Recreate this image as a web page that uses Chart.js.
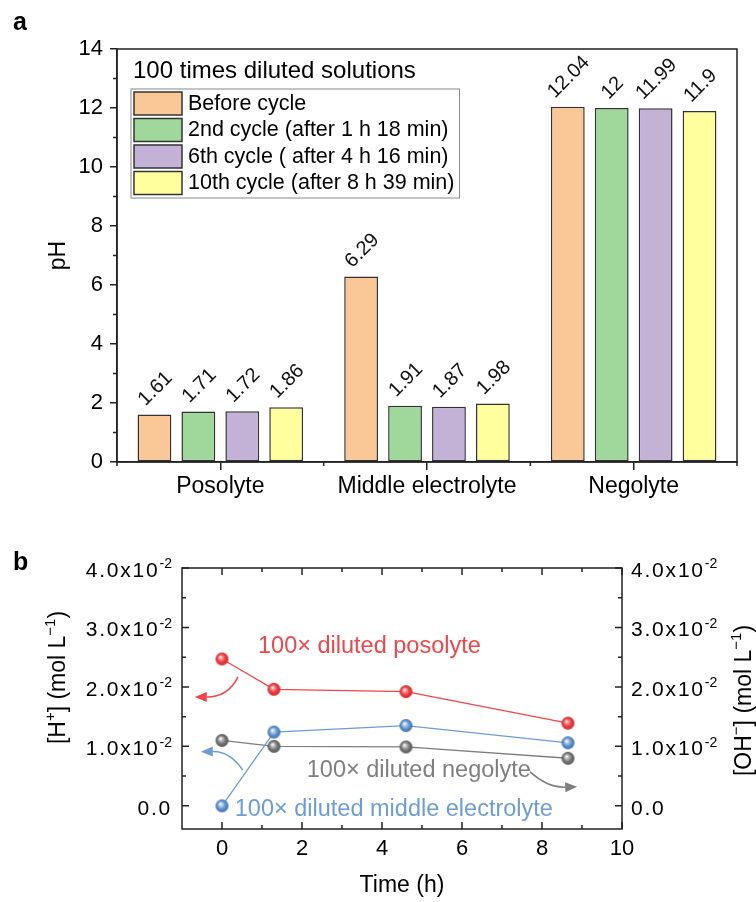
<!DOCTYPE html>
<html>
<head>
<meta charset="utf-8">
<script src="https://cdn.jsdelivr.net/npm/chart.js@4.4.1/dist/chart.umd.min.js"></script>
<style>
  body { margin: 0; background: #fff; }
  #wrap { position: relative; width: 756px; height: 902px; }
  #boxA { position: absolute; left: 0; top: 0; width: 756px; height: 520px; }
  #boxB { position: absolute; left: 0; top: 520px; width: 756px; height: 382px; }
</style>
</head>
<body>
<div id="wrap">
  <div id="boxA"><canvas id="graphique-ph"></canvas></div>
  <div id="boxB"><canvas id="graphique-conc"></canvas></div>
</div>
<script>
//-------------------------- Données : panneau a (pH) ---------------------------------------------
const solutions = ['Posolyte', 'Middle electrolyte', 'Negolyte'];
const cycleLabels = ['Before cycle', '2nd cycle (after 1 h 18 min)', '6th cycle ( after 4 h 16 min)', '10th cycle (after 8 h 39 min)'];
const phBefore = [1.61, 6.29, 12.04];
const ph2nd = [1.71, 1.91, 12];
const ph6th = [1.72, 1.87, 11.99];
const ph10th = [1.86, 1.98, 11.9];
const phTicksMajor = [0, 2, 4, 6, 8, 10, 12, 14];

//-------------------------- Données : panneau b (concentrations) ---------------------------------
const temps = [0, 1.3, 4.6, 8.65];
const hPosolyte = [0.0247, 0.0196, 0.0192, 0.0139];
const hMiddle = [0.0000, 0.0124, 0.0135, 0.0106];
const ohNegolyte = [0.0110, 0.0100, 0.0099, 0.0080];
const timeTicks = [0, 2, 4, 6, 8, 10];
const timeMinor = [1, 3, 5, 7, 9];
const concTicks = [0, 0.01, 0.02, 0.03, 0.04];
const concTickLabels = ['0.0', '1.0x10^{-2}', '2.0x10^{-2}', '3.0x10^{-2}', '4.0x10^{-2}'];
const concMinor = [0.005, 0.015, 0.025, 0.035];

const FONT = '"Liberation Sans", Arial, sans-serif';
const couleursBarres = ['#FAC896', '#A0D79B', '#C3B1D6', '#FFFF9E'];
Chart.defaults.font.family = FONT;
Chart.defaults.color = '#000';

// texte avec exposants : 'abc^{x}def'
function drawRich(ctx, str, x, y, size, align, spacing) {
    const parts = [];
    const re = /\^\{([^}]*)\}/g;
    let last = 0, m;
    while ((m = re.exec(str)) !== null) {
        if (m.index > last) parts.push({ t: str.slice(last, m.index), sup: false });
        parts.push({ t: m[1], sup: true });
        last = re.lastIndex;
    }
    if (last < str.length) parts.push({ t: str.slice(last), sup: false });
    const supSize = Math.round(size * 0.66);
    let total = 0;
    parts.forEach(p => {
        ctx.font = (p.sup ? supSize : size) + 'px ' + FONT;
        ctx.letterSpacing = p.sup ? '0px' : (spacing || '0px');
        p.w = ctx.measureText(p.t).width;
        total += p.w;
    });
    let cx = align === 'right' ? x - total : align === 'center' ? x - total / 2 : x;
    ctx.textAlign = 'left';
    ctx.textBaseline = 'alphabetic';
    parts.forEach(p => {
        ctx.font = (p.sup ? supSize : size) + 'px ' + FONT;
        ctx.letterSpacing = p.sup ? '0px' : (spacing || '0px');
        ctx.fillText(p.t, cx, p.sup ? y - size * 0.42 : y);
        cx += p.w;
    });
    ctx.letterSpacing = '0px';
}

//-------------------------- Panneau a : graphique en barres ---------------------------------------
const decoA = {
    id: 'decoA',
    afterDraw(chart) {
        const ctx = chart.ctx, a = chart.chartArea;
        const sx = chart.scales.x, sy = chart.scales.y;
        ctx.save();
        ctx.strokeStyle = '#222';
        ctx.lineWidth = 1.5;
        ctx.strokeRect(a.left, a.top, a.right - a.left, a.bottom - a.top);

        // petites graduations
        ctx.beginPath();
        for (let v = 1; v < 14; v += 2) {
            const p = sy.getPixelForValue(v);
            ctx.moveTo(a.left - 4, p); ctx.lineTo(a.left, p);
        }
        const pas = sx.getPixelForValue(1) - sx.getPixelForValue(0);
        for (let i = 0; i <= solutions.length; i++) {
            const p = sx.getPixelForValue(0) - pas / 2 + i * pas;
            ctx.moveTo(p, a.bottom); ctx.lineTo(p, a.bottom + 4);
        }
        ctx.stroke();

        // valeurs au-dessus des barres
        ctx.fillStyle = '#111';
        ctx.font = '20px ' + FONT;
        chart.data.datasets.forEach((ds, di) => {
            chart.getDatasetMeta(di).data.forEach((bar, i) => {
                const txt = String(ds.data[i]);
                const w = ctx.measureText(txt).width;
                const off = (w + 14) * 0.3536 + 7;
                ctx.save();
                ctx.translate(bar.x + 1, bar.y - off);
                ctx.rotate(-Math.PI / 4);
                ctx.textAlign = 'center';
                ctx.textBaseline = 'middle';
                ctx.fillText(txt, 0, 0);
                ctx.restore();
            });
        });

        // légende
        ctx.fillStyle = '#000';
        ctx.font = '24px ' + FONT;
        ctx.textAlign = 'left';
        ctx.textBaseline = 'alphabetic';
        ctx.fillText('100 times diluted solutions', a.left + 16, a.top + 29);
        const lx = a.left + 14, ly = a.top + 40;
        ctx.font = '21.5px ' + FONT;
        let maxW = 0;
        cycleLabels.forEach(t => { maxW = Math.max(maxW, ctx.measureText(t).width); });
        ctx.strokeStyle = '#888';
        ctx.lineWidth = 1;
        ctx.strokeRect(lx, ly, 57 + maxW + 5, 109);
        chart.data.datasets.forEach((ds, di) => {
            const ry = ly + 3 + di * 26.5;
            ctx.fillStyle = ds.backgroundColor;
            ctx.fillRect(lx + 3, ry, 48, 23);
            ctx.strokeStyle = '#333';
            ctx.lineWidth = 1.5;
            ctx.strokeRect(lx + 3, ry, 48, 23);
            ctx.fillStyle = '#000';
            ctx.textBaseline = 'middle';
            ctx.fillText(ds.label, lx + 57, ry + 12);
        });

        // titre de l'axe y
        ctx.save();
        ctx.translate(a.left - 58, (a.top + a.bottom) / 2);
        ctx.rotate(-Math.PI / 2);
        ctx.font = '23px ' + FONT;
        ctx.textAlign = 'center';
        ctx.textBaseline = 'middle';
        ctx.fillText('pH', 0, 0);
        ctx.restore();

        ctx.font = 'bold 25px ' + FONT;
        ctx.textAlign = 'left';
        ctx.textBaseline = 'alphabetic';
        ctx.fillText('a', 13, 30);
        ctx.restore();
    }
};

const seriesPh = [phBefore, ph2nd, ph6th, ph10th];
new Chart(document.getElementById('graphique-ph'), {
    type: 'bar',
    data: {
        labels: solutions,
        datasets: seriesPh.map((vals, i) => ({
            label: cycleLabels[i],
            data: vals,
            backgroundColor: couleursBarres[i],
            borderColor: '#333',
            borderWidth: 1.5,
            borderSkipped: false,
            categoryPercentage: 0.85,
            barPercentage: 0.77
        }))
    },
    options: {
        responsive: true,
        maintainAspectRatio: false,
        animation: false,
        layout: { padding: { top: 49, right: 19, left: 0, bottom: 0 } },
        plugins: { legend: { display: false }, tooltip: { enabled: false } },
        scales: {
            x: {
                offset: true,
                grid: { display: true, drawOnChartArea: false, drawTicks: true, tickLength: 8, offset: false, color: '#222', lineWidth: 1.5 },
                border: { display: true, color: '#222', width: 1.5 },
                ticks: { font: { size: 23 }, padding: 3, maxRotation: 0, autoSkip: false, color: '#000' },
                afterFit: s => { s.height = 58; }
            },
            y: {
                min: 0,
                max: 14,
                afterBuildTicks: s => { s.ticks = phTicksMajor.map(v => ({ value: v })); },
                grid: { drawOnChartArea: false, drawTicks: true, tickLength: 7, color: '#222', lineWidth: 1.5 },
                border: { display: true, color: '#222', width: 1.5 },
                ticks: { font: { size: 22 }, padding: 7, color: '#000' },
                afterFit: s => { s.width = 117; }
            }
        }
    },
    plugins: [decoA]
});

//-------------------------- Panneau b : concentrations ---------------------------------------------
function sphere(color, light, dark, r) {
    const c = document.createElement('canvas');
    const s = Math.ceil(r * 2 + 2);
    c.width = s; c.height = s;
    const g = c.getContext('2d');
    const m = s / 2;
    const grad = g.createRadialGradient(m - r * 0.25, m - r * 0.3, r * 0.05, m, m, r);
    grad.addColorStop(0, '#ffffff');
    grad.addColorStop(0.22, light);
    grad.addColorStop(0.6, color);
    grad.addColorStop(1, dark);
    g.fillStyle = grad;
    g.beginPath();
    g.arc(m, m, r, 0, Math.PI * 2);
    g.fill();
    return c;
}

const ROUGE = '#F0464B', BLEU = '#6E9DD4', GRIS = '#7F7F7F';

function fleche(ctx, sx, sy, p0, c, p1, color) {
    const x0 = sx.getPixelForValue(p0[0]), y0 = sy.getPixelForValue(p0[1]);
    const xc = sx.getPixelForValue(c[0]), yc = sy.getPixelForValue(c[1]);
    const x1 = sx.getPixelForValue(p1[0]), y1 = sy.getPixelForValue(p1[1]);
    const ang = Math.atan2(y1 - yc, x1 - xc);
    const L = 12, H = 5;
    const bx = x1 - L * Math.cos(ang), by = y1 - L * Math.sin(ang);
    ctx.strokeStyle = color;
    ctx.fillStyle = color;
    ctx.lineWidth = 1.5;
    ctx.beginPath();
    ctx.moveTo(x0, y0);
    ctx.quadraticCurveTo(xc, yc, bx, by);
    ctx.stroke();
    ctx.beginPath();
    ctx.moveTo(x1, y1);
    ctx.lineTo(bx + H * Math.sin(ang), by - H * Math.cos(ang));
    ctx.lineTo(bx - H * Math.sin(ang), by + H * Math.cos(ang));
    ctx.closePath();
    ctx.fill();
}

const decoB = {
    id: 'decoB',
    afterDraw(chart) {
        const ctx = chart.ctx, a = chart.chartArea;
        const sx = chart.scales.x, sy = chart.scales.y, sy2 = chart.scales.y2;
        ctx.save();
        ctx.strokeStyle = '#222';
        ctx.lineWidth = 1.5;
        ctx.strokeRect(a.left, a.top, a.right - a.left, a.bottom - a.top);

        // graduations vers l'intérieur
        ctx.beginPath();
        const tx = (v, len) => {
            const p = sx.getPixelForValue(v);
            ctx.moveTo(p, a.bottom); ctx.lineTo(p, a.bottom - len);
            ctx.moveTo(p, a.top); ctx.lineTo(p, a.top + len);
        };
        const ty = (v, len) => {
            const p = sy.getPixelForValue(v), p2 = sy2.getPixelForValue(v);
            ctx.moveTo(a.left, p); ctx.lineTo(a.left + len, p);
            ctx.moveTo(a.right, p2); ctx.lineTo(a.right - len, p2);
        };
        timeTicks.forEach(v => tx(v, 7));
        timeMinor.forEach(v => tx(v, 4));
        concTicks.forEach(v => ty(v, 7));
        concMinor.forEach(v => ty(v, 4));
        ctx.stroke();

        // étiquettes
        ctx.fillStyle = '#000';
        ctx.font = '22px ' + FONT;
        ctx.textAlign = 'center';
        ctx.textBaseline = 'middle';
        timeTicks.forEach(v => ctx.fillText(String(v), sx.getPixelForValue(v), a.bottom + 20));
        concTicks.forEach((v, i) => {
            drawRich(ctx, concTickLabels[i], a.left - 10, sy.getPixelForValue(v) + 9, 21, 'right', '1.8px');
            drawRich(ctx, concTickLabels[i], a.right + 9, sy2.getPixelForValue(v) + 9, 21, 'left', '1.8px');
        });

        // titres des axes
        ctx.font = '23px ' + FONT;
        ctx.textAlign = 'center';
        ctx.textBaseline = 'middle';
        ctx.fillText('Time (h)', (a.left + a.right) / 2, a.bottom + 57);
        const midY = (a.top + a.bottom) / 2;
        ctx.save();
        ctx.translate(a.left - 123, midY - 21);
        ctx.rotate(-Math.PI / 2);
        drawRich(ctx, '[H^{+}] (mol L^{\u22121})', 0, 6, 23, 'center');
        ctx.restore();
        ctx.save();
        ctx.translate(a.right + 121, midY + 2);
        ctx.rotate(-Math.PI / 2);
        drawRich(ctx, '[OH^{\u2212}] (mol L^{\u22121})', 0, 8, 23, 'center');
        ctx.restore();

        // annotations
        ctx.font = '23.5px ' + FONT;
        ctx.textAlign = 'left';
        ctx.textBaseline = 'alphabetic';
        ctx.fillStyle = ROUGE;
        ctx.fillText('100\u00d7 diluted posolyte', sx.getPixelForValue(0.9), sy.getPixelForValue(0.0257));
        ctx.fillStyle = GRIS;
        ctx.fillText('100\u00d7 diluted negolyte', sx.getPixelForValue(2.12), sy.getPixelForValue(0.0049));
        ctx.fillStyle = BLEU;
        ctx.fillText('100\u00d7 diluted middle electrolyte', sx.getPixelForValue(0.32), sy.getPixelForValue(-0.0017));
        fleche(ctx, sx, sy, [0.4, 0.0217], [0.15, 0.0183], [-0.68, 0.0183], ROUGE);
        fleche(ctx, sx, sy, [0.52, 0.0060], [0.2, 0.0092], [-0.53, 0.0091], BLEU);
        fleche(ctx, sx, sy, [7.7, 0.0057], [8.15, 0.0030], [8.88, 0.0032], GRIS);

        ctx.fillStyle = '#000';
        ctx.font = 'bold 25px ' + FONT;
        ctx.fillText('b', 13, 50);
        ctx.restore();
    }
};

const points = ys => temps.map((t, i) => ({ x: t, y: ys[i] }));
new Chart(document.getElementById('graphique-conc'), {
    type: 'line',
    data: {
        datasets: [
            { label: '100× diluted posolyte', data: points(hPosolyte), yAxisID: 'y', borderColor: ROUGE, borderWidth: 1.3,
              pointStyle: sphere('#EE3B40', '#F79A9C', '#CC2A2F', 6.5), pointRadius: 6.5, fill: false, tension: 0 },
            { label: '100× diluted middle electrolyte', data: points(hMiddle), yAxisID: 'y', borderColor: BLEU, borderWidth: 1.3,
              pointStyle: sphere('#5F93D0', '#B9D2EF', '#3F70AA', 6.5), pointRadius: 6.5, fill: false, tension: 0 },
            { label: '100× diluted negolyte', data: points(ohNegolyte), yAxisID: 'y2', borderColor: GRIS, borderWidth: 1.3,
              pointStyle: sphere('#777777', '#C4C4C4', '#555555', 6.5), pointRadius: 6.5, fill: false, tension: 0 }
        ]
    },
    options: {
        responsive: true,
        maintainAspectRatio: false,
        animation: false,
        layout: { padding: { top: 48, right: 134, left: 182, bottom: 73 } },
        plugins: { legend: { display: false }, tooltip: { enabled: false } },
        scales: {
            x: { type: 'linear', min: -1, max: 10, display: false },
            y: { type: 'linear', min: -0.0039, max: 0.04, display: false },
            y2: { type: 'linear', position: 'right', min: -0.0039, max: 0.04, display: false }
        }
    },
    plugins: [decoB]
});
</script>
</body>
</html>
